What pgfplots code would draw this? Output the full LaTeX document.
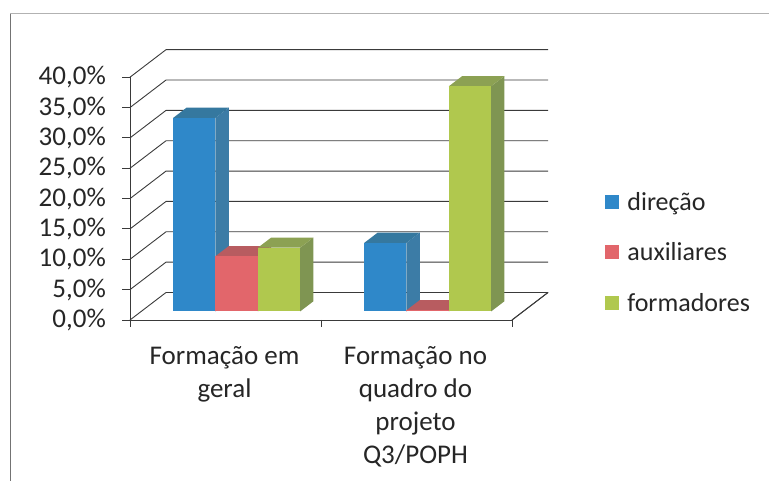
\documentclass[border=0pt]{standalone}
\usepackage{pgfplots}
\pgfplotsset{compat=1.18}
\usepackage{fontspec}
\setmainfont{Carlito}
\definecolor{dirFront}{HTML}{2F88C9}
\definecolor{dirSide}{HTML}{3C7CA6}
\definecolor{dirTop}{HTML}{35789F}
\definecolor{auxFront}{HTML}{E2666B}
\definecolor{auxSide}{HTML}{B56063}
\definecolor{auxTop}{HTML}{B85C60}
\definecolor{forFront}{HTML}{B0C84E}
\definecolor{forSide}{HTML}{7F9552}
\definecolor{forTop}{HTML}{8CA153}
\definecolor{wire}{HTML}{3A3A3A}

% One column as a block: left x, right x, value, colour prefix
\newcommand{\column}[4]{%
  \addplot3[forget plot,no marks,draw=none,fill=#4Side] coordinates
    {(#2,0.31,0) (#2,0.68,0) (#2,0.68,#3) (#2,0.31,#3)};
  \addplot3[forget plot,no marks,draw=none,fill=#4Top] coordinates
    {(#1,0.31,#3) (#2,0.31,#3) (#2,0.68,#3) (#1,0.68,#3)};
  \addplot3[forget plot,no marks,draw=none,fill=#4Front] coordinates
    {(#1,0.31,0) (#2,0.31,0) (#2,0.31,#3) (#1,0.31,#3)};
}

\begin{document}
\begin{tikzpicture}[x=1pt,y=1pt]
  \path[use as bounding box] (0,0) rectangle (769,481);
  % page frame
  \draw[black!55,line width=0.9pt] (10,0) -- (10,468);
  \draw[black!30,line width=0.9pt] (10,468) -- (769,468);
  \begin{axis}[
    at={(130pt,161pt)},anchor=origin,
    x={(191pt,0pt)},y={(36pt,27.5pt)},z={(0pt,6.07pt)},
    xmin=0,xmax=2,ymin=0,ymax=1,zmin=0,zmax=40,
    clip=false,
    axis lines*=left,
    axis line style={wire,line width=0.9pt},
    major tick length=0pt,minor tick length=0pt,
    xtick={0.5,1.5},
    xticklabels={{Formação em\\geral},{Formação no\\quadro do\\projeto\\Q3/POPH}},
    xticklabel style={align=center,font=\fontsize{27}{33}\selectfont,
      text=black!85,anchor=north,inner sep=0pt,yshift=-26pt,xshift=-1pt},
    ytick=\empty,
    ztick={0,5,...,40},
    zticklabels={{0,0\%},{5,0\%},{10,0\%},{15,0\%},{20,0\%},{25,0\%},{30,0\%},{35,0\%},{40,0\%}},
    zticklabel style={font=\fontsize{27}{27}\selectfont,text=black!85,
      anchor=east,inner sep=0pt,xshift=-24pt},
    legend style={draw=none,fill=none,at={(475pt,67.5pt)},anchor=west,
      font=\fontsize{26}{26}\selectfont,text=black!85,
      row sep=27pt,inner sep=0pt,
      legend cell align=left},
    legend image code/.code={\fill[#1,draw=none] (0pt,-7pt) rectangle (14pt,7pt);\path (20pt,0pt);},
  ]
    % wall and floor wires
    \pgfplotsinvokeforeach{0,5,...,40}{
      \addplot3[forget plot,no marks,wire,line width=0.9pt] coordinates {(0,0,#1) (0,1,#1) (2,1,#1)};
      \draw[wire,line width=0.9pt] (axis cs:0,0,#1) -- ++(-8pt,0pt);
    }
    \addplot3[forget plot,no marks,wire,line width=0.9pt] coordinates {(2,0,0) (2,1,0)};
    \pgfplotsinvokeforeach{0,1,2}{
      \draw[wire,line width=0.9pt] (axis cs:#1,0,0) -- ++(0pt,-7pt);
    }
    % Formação em geral
    \column{0.168}{0.389}{31.9}{dir}
    \column{0.389}{0.611}{9.1}{aux}
    \column{0.611}{0.832}{10.5}{for}
    % Formação no quadro do projeto Q3/POPH
    \column{1.168}{1.389}{11.3}{dir}
    \column{1.389}{1.611}{0.2}{aux}
    \column{1.611}{1.832}{37.1}{for}
    \addlegendimage{fill=dirFront}\addlegendentry{direção}
    \addlegendimage{fill=auxFront}\addlegendentry{auxiliares}
    \addlegendimage{fill=forFront}\addlegendentry{formadores}
  \end{axis}
\end{tikzpicture}
\end{document}
